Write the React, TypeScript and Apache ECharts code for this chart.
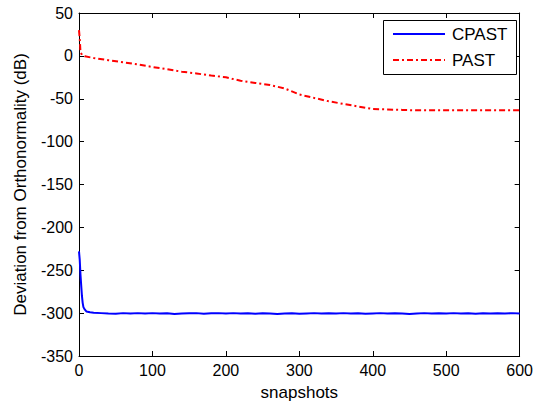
import React, { useEffect, useRef } from "react";
import * as echarts from "echarts";

const xTicks = [0, 100, 200, 300, 400, 500, 600];
const yTicks = [50, 0, -50, -100, -150, -200, -250, -300, -350];

const cpastX = [0, 1, 2, 3, 4, 5, 6, 8, 10, 15, 20, 30, 40, 50, 60, 70, 80, 90, 100, 110, 120, 130, 140, 150, 160, 170, 180, 190, 200, 210, 220, 230, 240, 250, 260, 270, 280, 290, 300, 310, 320, 330, 340, 350, 360, 370, 380, 390, 400, 410, 420, 430, 440, 450, 460, 470, 480, 490, 500, 510, 520, 530, 540, 550, 560, 570, 580, 590, 600];
const cpastY = [-228, -238, -255, -268, -280, -288, -293, -296, -298, -299, -299.5, -300, -300.5, -300.8, -300, -300.5, -300, -300.3, -300, -300.5, -300.2, -301, -300.5, -300.2, -300, -300.6, -300.2, -300, -300.4, -300, -300.5, -300.2, -300.6, -300.1, -300.4, -301, -300.5, -300.2, -300.8, -300.3, -300, -300.5, -300.2, -300.5, -300, -300.4, -300.2, -300.6, -300.3, -300, -300.5, -300.2, -300.4, -300.9, -300.3, -300, -300.5, -300.2, -300.4, -300, -300.5, -300.2, -300.6, -300.1, -300.4, -300.2, -300.5, -300, -300.4];

const pastX = [0, 1, 2, 4, 8, 20, 40, 60, 80, 100, 120, 140, 160, 180, 200, 220, 240, 260, 280, 300, 320, 340, 360, 380, 400, 420, 440, 460, 500, 550, 600];
const pastY = [30, 20, 5, 1, -0.5, -2.5, -5, -7.5, -10, -13, -15.5, -18.5, -20.5, -23, -25, -29, -31.5, -34, -38, -45, -49, -53, -56, -59, -62, -62.5, -63, -63.5, -63.5, -63.5, -63.5];

const seriesNames = ["CPAST", "PAST"];
const seriesColors = ["#0000ff", "#ff0000"];
const PAST_DASH = [6, 3, 2, 3];

const FONT = "Arial, 'Liberation Sans', sans-serif";

export default function App() {
  const ref = useRef<HTMLDivElement>(null);
  useEffect(() => {
    if (!ref.current) return;
    const chart = echarts.init(ref.current, null, { renderer: "svg" });
    const axisLine = { show: true, onZero: false, lineStyle: { color: "#000", width: 1 } };
    const axisTick = { show: true, inside: true, length: 5, lineStyle: { color: "#000", width: 1 } };
    const fmt = (v: number) => String(v);
    chart.setOption({
      animation: false,
      backgroundColor: "#fff",
      textStyle: { fontFamily: FONT },
      grid: { left: 79, right: 13, top: 13, bottom: 48, containLabel: false },
      graphic: [
        {
          type: "rect",
          shape: { x: 383.5, y: 20.5, width: 133, height: 54 },
          style: { fill: "#fff", stroke: "#000", lineWidth: 1 },
          z: 100,
        },
        {
          type: "line",
          shape: { x1: 393, y1: 34, x2: 445, y2: 34 },
          style: { stroke: seriesColors[0], lineWidth: 2 },
          z: 101,
        },
        {
          type: "line",
          shape: { x1: 393, y1: 60, x2: 445, y2: 60 },
          style: { stroke: seriesColors[1], lineWidth: 2, lineDash: PAST_DASH },
          z: 101,
        },
        {
          type: "text",
          x: 452,
          y: 34,
          style: { text: seriesNames[0], fill: "#000", fontSize: 17, fontFamily: FONT, verticalAlign: "middle" },
          z: 101,
        },
        {
          type: "text",
          x: 452,
          y: 60,
          style: { text: seriesNames[1], fill: "#000", fontSize: 17, fontFamily: FONT, verticalAlign: "middle" },
          z: 101,
        },
      ],
      xAxis: [
        {
          type: "value",
          min: 0,
          max: 600,
          interval: 100,
          position: "bottom",
          axisLine,
          axisTick,
          splitLine: { show: false },
          axisLabel: { fontSize: 16, color: "#000", margin: 6, fontFamily: FONT, customValues: xTicks, formatter: fmt },
          name: "snapshots",
          nameLocation: "middle",
          nameGap: 28,
          nameTextStyle: { fontSize: 17, color: "#000", fontFamily: FONT },
        },
        {
          type: "value",
          min: 0,
          max: 600,
          interval: 100,
          position: "top",
          axisLine,
          axisTick,
          splitLine: { show: false },
          axisLabel: { show: false },
        },
      ],
      yAxis: [
        {
          type: "value",
          min: -350,
          max: 50,
          interval: 50,
          position: "left",
          axisLine,
          axisTick,
          splitLine: { show: false },
          axisLabel: { fontSize: 16, color: "#000", margin: 6, fontFamily: FONT, customValues: yTicks, formatter: fmt },
          name: "Deviation from Orthonormality (dB)",
          nameLocation: "middle",
          nameGap: 50,
          nameTextStyle: { fontSize: 17, color: "#000", fontFamily: FONT },
        },
        {
          type: "value",
          min: -350,
          max: 50,
          interval: 50,
          position: "right",
          axisLine,
          axisTick,
          splitLine: { show: false },
          axisLabel: { show: false },
        },
      ],
      series: [
        {
          name: seriesNames[0],
          type: "line",
          showSymbol: false,
          symbol: "none",
          color: seriesColors[0],
          lineStyle: { color: seriesColors[0], width: 2 },
          data: cpastX.map((x, i) => [x, cpastY[i]]),
        },
        {
          name: seriesNames[1],
          type: "line",
          showSymbol: false,
          symbol: "none",
          color: seriesColors[1],
          lineStyle: { color: seriesColors[1], width: 2, type: PAST_DASH },
          data: pastX.map((x, i) => [x, pastY[i]]),
        },
      ],
    });
    return () => chart.dispose();
  }, []);
  return <div ref={ref} style={{ width: 536, height: 406, position: "absolute", left: 0, top: 0 }} />;
}
